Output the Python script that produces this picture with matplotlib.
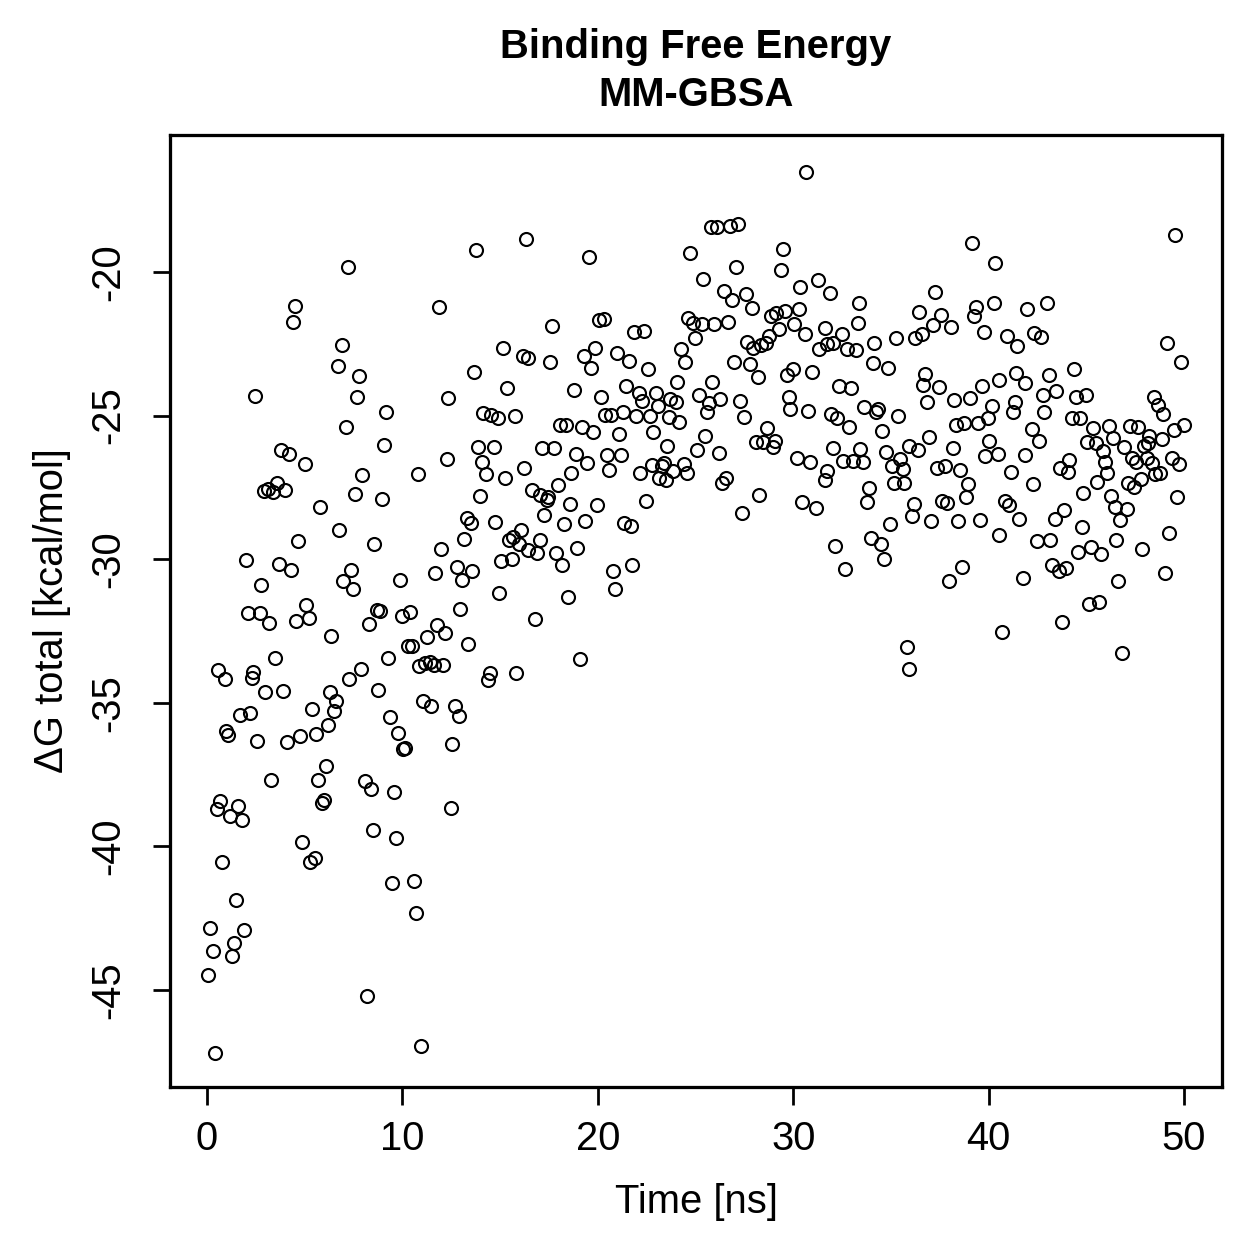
import matplotlib
matplotlib.use("Agg")
import matplotlib.pyplot as plt

# values (time in ns, dG in kcal/mol)
t_ns = [
    7.20, 4.49, 4.38, 6.89, 6.69, 7.78, 2.47, 7.69, 7.10, 3.79, 4.20, 5.00, 7.95, 2.90, 3.10,
    3.39, 3.60, 3.99, 7.57, 5.78, 6.77, 4.67, 1.98, 3.68, 4.28, 7.38, 6.98, 7.49, 2.78, 5.08,
    2.08, 2.71, 3.17, 4.57, 5.22, 6.36, 3.48, 0.58, 0.90, 2.37, 2.29, 2.97, 3.87, 7.27, 7.86,
    6.29, 6.60, 6.48, 5.36, 1.69, 2.20, 6.17, 1.00, 1.09, 2.58, 4.09, 4.78, 5.58, 6.09, 3.29,
    5.70, 0.68, 0.50, 1.60, 1.18, 1.79, 5.99, 5.89, 4.86, 5.53, 5.27, 0.78, 1.48, 0.17, 1.89,
    1.40, 0.29, 1.28, 0.07, 0.39,
    16.33, 13.77, 11.87, 15.16, 16.15, 16.44, 13.68, 15.36, 12.35, 9.18, 14.14, 14.56, 14.87,
    15.76, 9.07, 13.89, 14.67, 12.27, 14.09, 16.24, 10.78, 14.27, 15.27, 8.97, 13.97, 13.29,
    13.49, 14.75, 16.08, 15.68, 15.45, 15.98, 8.57, 11.98, 13.17, 12.78, 13.58, 13.07, 11.68,
    15.06, 15.59, 9.88, 14.97,
    8.68, 8.88, 8.27, 9.97, 10.39, 12.96, 11.79, 11.28, 12.18, 13.38, 9.28, 10.30, 10.48, 10.86,
    11.15, 11.41, 11.62, 12.09, 14.48, 14.38, 15.84, 8.77, 11.07, 11.46, 12.67, 12.88, 9.37,
    9.79, 10.13, 10.05, 12.56, 8.09, 8.39, 9.57, 12.47, 8.48, 9.67, 9.47, 10.58, 10.68, 8.19,
    10.96,
    19.56, 24.74, 17.67, 20.06, 20.30, 21.85, 22.36, 24.64, 24.86, 17.57, 19.28, 19.87, 19.67,
    20.96, 21.58, 22.57, 24.27, 24.48, 24.07, 18.78, 20.16, 21.46, 22.09, 22.26, 22.97, 23.06,
    23.71, 24.00, 20.37, 20.67, 21.27, 21.97, 22.67, 23.64, 24.16, 22.85, 18.05, 18.37, 19.17,
    19.77, 21.06, 17.16, 17.78, 23.56, 18.87, 19.46, 20.47, 21.19, 20.57, 18.65, 22.17, 22.76,
    23.37, 23.27, 23.86, 24.40, 24.57, 23.15, 23.49, 17.98, 16.65, 17.04, 17.47, 17.38, 17.26,
    18.58, 19.98, 22.45, 18.29, 19.36, 21.34, 21.68, 17.06, 16.45, 16.89, 17.88, 18.18, 18.96,
    20.76, 21.77, 20.86, 18.45, 16.79, 19.09,
    30.65, 25.78, 26.09, 26.77, 27.16, 29.46, 29.35, 27.07, 25.37, 30.35, 31.27, 31.87, 26.46,
    26.87, 27.57, 27.87, 28.84, 29.12, 29.58, 30.28, 25.32, 25.95, 26.68, 24.97, 29.29, 30.06,
    30.58, 31.63, 32.48, 27.65, 27.93, 28.34, 28.61, 28.78, 31.30, 31.74, 32.03, 32.73, 33.19,
    26.97, 27.79, 28.18, 29.66, 29.97, 30.97, 32.35, 32.96, 25.86, 25.18, 25.69, 25.57, 26.25,
    27.28, 27.48, 29.76, 29.86, 30.77, 31.95, 32.26, 32.87, 25.49, 25.09, 26.18, 28.67, 28.07,
    28.47, 29.07, 28.95, 32.05, 30.17, 30.86, 31.73, 31.63, 32.56, 33.07, 26.56, 26.34, 28.27,
    27.36, 30.47, 31.15, 32.16, 32.67,
    39.15, 40.34, 37.24, 33.37, 36.46, 37.56, 37.15, 38.05, 39.35, 39.25, 40.26, 33.30, 36.25,
    36.58, 35.26, 34.15, 39.74, 40.96, 41.45, 34.06, 34.85, 36.74, 36.66, 37.46, 39.65, 40.52,
    41.41, 36.87, 38.24, 39.06, 40.15, 41.35, 41.25, 33.64, 34.32, 34.24, 35.36, 38.33, 38.74,
    39.44, 39.95, 34.55, 36.95, 33.44, 33.59, 34.75, 35.94, 36.37, 38.15, 40.02, 39.83, 40.46,
    35.04, 35.47, 35.60, 37.36, 37.77, 38.55, 41.15, 35.16, 35.69, 33.86, 33.76, 38.96, 38.86,
    36.16, 36.06, 37.63, 37.87, 40.83, 41.04, 37.07, 38.45, 39.54, 41.53, 34.97, 33.97, 34.48,
    34.66, 40.53, 38.66, 37.96, 40.67, 35.82, 35.90,
    49.54, 41.98, 42.97, 42.32, 42.68, 49.15, 49.86, 41.88, 43.07, 44.35, 42.77, 43.45, 42.85,
    44.46, 44.98, 48.46, 48.65, 48.94, 42.20, 42.56, 44.25, 44.68, 45.35, 46.14, 46.35, 47.24,
    47.66, 49.97, 49.46, 45.02, 45.49, 45.84, 46.95, 48.86, 48.23, 47.95, 48.14, 41.88, 45.96,
    46.04, 45.56, 43.65, 44.13, 44.05, 47.35, 47.54, 48.09, 48.36, 49.37, 49.76, 48.77, 48.52,
    47.78, 47.46, 47.12, 42.26, 44.85, 49.62, 46.25, 46.47, 47.07, 46.72, 43.37, 43.86, 44.76,
    42.46, 43.14, 46.53, 49.25, 44.56, 45.24, 45.75, 47.85, 43.26, 43.59, 43.96, 41.77, 46.64,
    49.04, 45.15, 45.65, 43.74, 46.84,
]

dg = [
    -19.84, -21.17, -21.75, -22.55, -23.28, -23.62, -24.32, -24.35, -25.40, -26.19, -26.35,
    -26.70, -27.08, -27.61, -27.57, -27.67, -27.36, -27.59, -27.74, -28.17, -29.00, -29.36,
    -30.02, -30.16, -30.38, -30.37, -30.75, -31.05, -30.90, -31.59,
    -31.88, -31.88, -32.21, -32.14, -32.06, -32.66, -33.45, -33.86, -34.18, -33.92, -34.15,
    -34.61, -34.58, -34.18, -33.82, -34.62, -34.93, -35.30, -35.21, -35.43, -35.37, -35.77,
    -36.00, -36.12, -36.33, -36.38, -36.15, -36.10, -37.19, -37.68, -37.68, -38.41, -38.71,
    -38.58, -38.93, -39.07, -38.38, -38.50, -39.86, -40.39, -40.53, -40.53, -41.87, -42.83,
    -42.91, -43.37, -43.63, -43.82, -44.48, -47.20,
    -18.86, -19.23, -21.21, -22.64, -22.92, -23.00, -23.50, -24.05, -24.39, -24.89, -24.92,
    -24.98, -25.10, -25.01, -26.01, -26.09, -26.09, -26.50, -26.63, -26.81, -27.02, -27.04,
    -27.18, -27.92, -27.80, -28.55, -28.73, -28.69, -28.98, -29.22, -29.33, -29.48, -29.48,
    -29.65, -29.30, -30.26, -30.41, -30.72, -30.48, -30.06, -29.98, -30.72, -31.18,
    -31.77, -31.79, -32.27, -31.98, -31.84, -31.73, -32.28, -32.70, -32.58, -32.95, -33.45,
    -33.02, -33.02, -33.71, -33.63, -33.57, -33.68, -33.68, -33.95, -34.21, -33.95, -34.55,
    -34.94, -35.10, -35.11, -35.45, -35.51, -36.04, -36.59, -36.61, -36.43, -37.72, -37.99,
    -38.12, -38.68, -39.43, -39.71, -41.29, -41.20, -42.31, -45.21, -46.95,
    -19.47, -19.33, -21.88, -21.67, -21.63, -22.10, -22.07, -21.61, -21.79, -23.15, -22.91,
    -22.64, -23.35, -22.83, -23.10, -23.39, -22.68, -23.12, -23.84, -24.12, -24.34, -23.98,
    -24.20, -24.48, -24.23, -24.67, -24.43, -24.54, -24.98, -24.98, -24.87, -25.03, -25.03,
    -25.04, -25.23, -25.56, -25.33, -25.33, -25.39, -25.57, -25.63, -26.12, -26.12, -26.06,
    -26.34, -26.66, -26.39, -26.39, -26.89, -26.99, -27.01, -26.72, -26.66, -26.74, -26.92,
    -26.69, -27.01, -27.18, -27.24, -27.41, -27.59, -27.76, -27.82, -27.94, -28.45, -28.09,
    -28.10, -27.98, -28.76, -28.68, -28.75, -28.83, -29.33, -29.68, -29.80, -29.77, -30.19,
    -29.61, -30.40, -30.20, -31.05, -31.31, -32.08, -33.49,
    -16.51, -18.42, -18.42, -18.39, -18.34, -19.21, -19.93, -19.84, -20.24, -20.53, -20.28,
    -20.73, -20.66, -20.97, -20.75, -21.24, -21.52, -21.42, -21.36, -21.29, -21.81, -21.81,
    -21.73, -22.31, -21.97, -21.80, -22.16, -21.95, -22.15, -22.45, -22.64, -22.54, -22.46,
    -22.22, -22.68, -22.51, -22.46, -22.69, -22.72, -23.12, -23.21, -23.64, -23.57, -23.38,
    -23.48, -23.97, -24.05, -23.82, -24.29, -24.57, -24.89, -24.42, -24.50, -25.06, -24.35,
    -24.77, -24.83, -24.94, -25.07, -25.39, -25.70, -26.20, -26.31, -25.42, -25.91, -25.91,
    -25.87, -26.08, -26.12, -26.47, -26.60, -26.92, -27.24, -26.57, -26.59, -27.16, -27.36,
    -27.76, -28.40, -28.01, -28.22, -29.54, -30.34,
    -18.99, -19.69, -20.68, -21.09, -21.40, -21.49, -21.83, -21.90, -21.21, -21.52, -21.09,
    -21.79, -22.31, -22.16, -22.31, -22.46, -22.09, -22.23, -22.58, -23.16, -23.35, -23.56,
    -23.95, -24.01, -23.98, -23.77, -23.52, -24.53, -24.45, -24.39, -24.67, -24.54, -24.87,
    -24.71, -24.77, -24.87, -25.00, -25.34, -25.27, -25.25, -25.10, -25.54, -25.75, -26.15,
    -26.61, -26.26, -26.05, -26.21, -26.14, -25.87, -26.41, -26.33, -26.74, -26.51, -26.87,
    -26.81, -26.74, -26.90, -26.97, -27.36, -27.34, -27.53, -28.00, -27.39, -27.83, -28.07,
    -28.49, -27.97, -28.03, -27.97, -28.11, -28.66, -28.68, -28.65, -28.61, -28.77, -29.25,
    -29.48, -29.99, -29.16, -30.26, -30.75, -32.52, -33.07, -33.81,
    -18.70, -21.28, -21.09, -22.14, -22.25, -22.48, -23.12, -23.85, -23.59, -23.39, -24.28,
    -24.14, -24.86, -24.36, -24.28, -24.34, -24.63, -24.93, -25.48, -25.89, -25.08, -25.08,
    -25.44, -25.35, -25.77, -25.35, -25.41, -25.34, -25.50, -25.91, -25.97, -26.22, -26.08,
    -25.83, -25.71, -26.06, -25.94, -26.38, -26.60, -27.01, -27.32, -26.84, -26.55, -26.96,
    -26.49, -26.60, -26.49, -26.66, -26.49, -26.70, -26.99, -27.04, -27.22, -27.48, -27.34,
    -27.39, -27.68, -27.82, -27.80, -28.17, -28.26, -28.64, -28.61, -28.29, -28.88, -29.36,
    -29.33, -29.33, -29.10, -29.76, -29.59, -29.81, -29.66, -30.20, -30.40, -30.30, -30.67,
    -30.75, -30.47, -31.56, -31.48, -32.20, -33.28,
]

x_ticks = [0, 10, 20, 30, 40, 50]
y_ticks = [-45, -40, -35, -30, -25, -20]

plt.rcParams['font.family'] = ['Liberation Sans', 'DejaVu Sans']
plt.rcParams['axes.unicode_minus'] = False

W = 1259
fig = plt.figure(figsize=(W / 180, W / 180), dpi=180)
ax = fig.add_axes([170 / W, 1 - 1087 / W, (1222 - 170) / W, (1087 - 135) / W])

ax.plot(t_ns, dg, 'o', mfc='none', mec='black', ms=5.2, mew=0.85, ls='none')

ax.set_xlim(-1.89, 51.94)
ax.set_ylim(-48.38, -15.23)
ax.set_xticks(x_ticks)
ax.set_yticks(y_ticks)
ax.tick_params(direction='out', length=7, width=1.1, labelsize=16, colors='black')
ax.tick_params(axis='x', pad=6)
ax.tick_params(axis='y', pad=10, labelrotation=90)
for lab in ax.get_yticklabels():
    lab.set_va('center')
for s in ax.spines.values():
    s.set_linewidth(1.3)

fig.text(696 / W, 1 - 47 / W, 'Binding Free Energy', ha='center', va='center',
         fontsize=16, fontweight='bold')
fig.text(696 / W, 1 - 95 / W, 'MM-GBSA', ha='center', va='center',
         fontsize=16, fontweight='bold')
fig.text(696 / W, 1 - 1202 / W, 'Time [ns]', ha='center', va='center', fontsize=16)
fig.text(52 / W, 1 - 611 / W, 'ΔG total [kcal/mol]', ha='center', va='center',
         rotation=90, fontsize=16)

fig.savefig('out.png', dpi=180)
